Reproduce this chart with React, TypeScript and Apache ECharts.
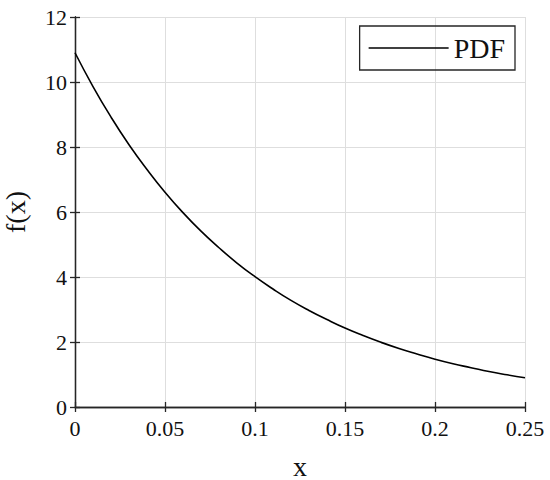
import React, { useEffect, useRef } from "react";
import * as echarts from "echarts";

const xValues = [0, 0.01, 0.02, 0.03, 0.04, 0.05, 0.06, 0.07, 0.08, 0.09, 0.1, 0.11, 0.12, 0.13, 0.14, 0.15, 0.16, 0.17, 0.18, 0.19, 0.2, 0.21, 0.22, 0.23, 0.24, 0.25];
const pdfValues = [10.9, 9.86, 8.92, 8.07, 7.31, 6.61, 5.98, 5.41, 4.9, 4.43, 4.01, 3.63, 3.28, 2.97, 2.69, 2.43, 2.2, 1.99, 1.8, 1.63, 1.47, 1.33, 1.21, 1.09, 0.99, 0.9];
const xTicks = [0, 0.05, 0.1, 0.15, 0.2, 0.25];
const yTicks = [0, 2, 4, 6, 8, 10, 12];
const seriesName = "PDF";

const FONT = "Liberation Serif";
const AX = "#262626";

export default function App() {
  const ref = useRef<HTMLDivElement>(null);
  useEffect(() => {
    const chart = echarts.init(ref.current!, null, { renderer: "svg" });
    const fmtX = (v: number) => {
      const m = xTicks.find((t) => Math.abs(t - v) < 1e-9);
      return m === undefined ? "" : String(m);
    };
    chart.setOption({
      animation: false,
      backgroundColor: "#fff",
      grid: { left: 75, top: 17, right: 25, bottom: 73, containLabel: false, outerBoundsMode: "none" },
      legend: {
        right: 35,
        top: 26,
        borderColor: AX,
        borderWidth: 1.3,
        padding: [8, 10, 8, 9],
        itemWidth: 80,
        itemHeight: 14,
        itemGap: 8,
        textStyle: { fontFamily: FONT, fontSize: 28, color: "#111" },
        data: [{ name: seriesName, icon: "path://M0,0L80,0L80,1.3L0,1.3Z", itemStyle: { color: "#000" } }],
      },
      xAxis: [
        {
          type: "value",
          min: 0,
          max: 0.25,
          interval: 0.05,
          name: "x",
          nameLocation: "middle",
          nameGap: 45,
          nameTextStyle: { fontFamily: FONT, fontSize: 28, color: "#111" },
          axisLine: { show: true, lineStyle: { color: AX, width: 1.3 } },
          axisTick: { show: true, inside: true, length: 5, lineStyle: { color: AX, width: 1.3 } },
          axisLabel: { fontFamily: FONT, fontSize: 22, color: "#111", margin: 10, formatter: fmtX },
          splitLine: { show: true, lineStyle: { color: "#dedede", width: 1 } },
        },
        {
          type: "value",
          position: "top",
          min: 0,
          max: 0.25,
          interval: 0.05,
          axisLine: { show: true, lineStyle: { color: AX, width: 1.3 } },
          axisTick: { show: true, inside: true, length: 5, lineStyle: { color: AX, width: 1.3 } },
          axisLabel: { show: false },
          splitLine: { show: false },
        },
      ],
      yAxis: [
        {
          type: "value",
          min: 0,
          max: 12,
          interval: 2,
          name: "f(x)",
          nameLocation: "middle",
          nameGap: 46,
          nameTextStyle: { fontFamily: FONT, fontSize: 28, color: "#111" },
          axisLine: { show: true, lineStyle: { color: AX, width: 1.3 } },
          axisTick: { show: true, inside: true, length: 5, lineStyle: { color: AX, width: 1.3 } },
          axisLabel: {
            fontFamily: FONT,
            fontSize: 22,
            color: "#111",
            margin: 8,
            formatter: (v: number) => (yTicks.includes(v) ? String(v) : ""),
          },
          splitLine: { show: true, lineStyle: { color: "#dedede", width: 1 } },
        },
        {
          type: "value",
          position: "right",
          min: 0,
          max: 12,
          interval: 2,
          axisLine: { show: true, lineStyle: { color: AX, width: 1.3 } },
          axisTick: { show: true, inside: true, length: 5, lineStyle: { color: AX, width: 1.3 } },
          axisLabel: { show: false },
          splitLine: { show: false },
        },
      ],
      series: [
        {
          name: seriesName,
          type: "line",
          data: xValues.map((x, i) => [x, pdfValues[i]]),
          showSymbol: false,
          symbol: "none",
          smooth: true,
          lineStyle: { color: "#000", width: 1.6 },
          itemStyle: { color: "#000" },
        },
      ],
    });
    return () => chart.dispose();
  }, []);
  return <div ref={ref} style={{ position: "fixed", left: 0, top: 0, width: 550, height: 480 }} />;
}
